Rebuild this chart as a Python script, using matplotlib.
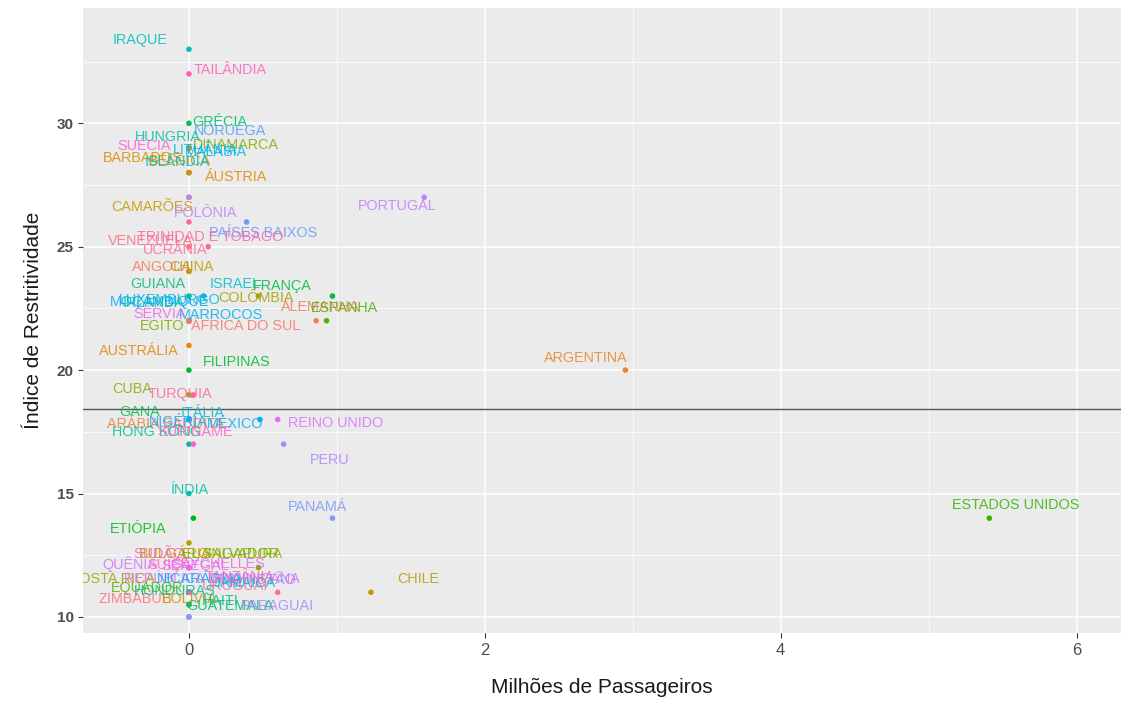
import unicodedata
import numpy as np
import matplotlib
matplotlib.use("Agg")
import matplotlib.pyplot as plt

# País, passageiros (milhões) e índice de restritividade
paises = [
    "IRAQUE", "TAILÂNDIA", "GRÉCIA", "NORUEGA", "HUNGRIA", "DINAMARCA", "SUÉCIA",
    "LITUÂNIA", "MALÁSIA", "BARBADOS", "BÉLGICA", "ISLÂNDIA", "ÁUSTRIA", "CAMARÕES",
    "POLÔNIA", "PORTUGAL", "PAÍSES BAIXOS", "TRINIDAD E TOBAGO", "VENEZUELA", "UCRÂNIA",
    "ANGOLA", "CHINA", "GUIANA", "ISRAEL", "FRANÇA", "COLÔMBIA", "LUXEMBURGO",
    "MOÇAMBIQUE", "IRLANDA", "MARROCOS", "SÉRVIA", "EGITO", "ÁFRICA DO SUL", "ALEMANHA",
    "ESPANHA", "AUSTRÁLIA", "FILIPINAS", "ARGENTINA", "CUBA", "TURQUIA", "GANA", "ITÁLIA",
    "ARÁBIA SAUDITA", "NIGÉRIA", "MÉXICO", "HONG KONG", "SURINAME", "REINO UNIDO", "PERU",
    "ÍNDIA", "ETIÓPIA", "PANAMÁ", "ESTADOS UNIDOS", "CHILE", "CINGAPURA", "SUDÃO",
    "BULGÁRIA", "EL SALVADOR", "QUÊNIA", "SEYCHELLES", "SUÍÇA", "COSTA RICA",
    "REPÚBLICA DOMINICANA", "NICARÁGUA", "PAQUISTÃO", "EQUADOR", "URUGUAI", "ZIMBÁBUE",
    "BOLÍVIA", "GUATEMALA", "PARAGUAI", "HONDURAS", "JAMAICA", "HAITI", "TANZÂNIA",
    "SENEGAL",
]
passageiros = [
    0.00, 0.00, 0.00, 0.00, 0.00, 0.00, 0.00,
    0.00, 0.00, 0.00, 0.00, 0.00, 0.00, 0.00,
    0.00, 1.59, 0.39, 0.13, 0.00, 0.00,
    0.00, 0.00, 0.00, 0.10, 0.97, 0.47, 0.00,
    0.00, 0.00, 0.00, 0.00, 0.00, 0.00, 0.86,
    0.93, 0.00, 0.00, 2.95, 0.00, 0.03, 0.00, 0.00,
    0.00, 0.00, 0.48, 0.00, 0.03, 0.60, 0.64,
    0.00, 0.03, 0.97, 5.41, 1.23, 0.00, 0.00,
    0.00, 0.47, 0.00, 0.00, 0.00, 0.00,
    0.00, 0.00, 0.00, 0.00, 0.60, 0.00,
    0.00, 0.00, 0.00, 0.00, 0.00, 0.00, 0.00,
    0.00,
]
restritividade = [
    33, 32, 30, 29, 29, 29, 29,
    29, 29, 29, 28, 28, 28, 27,
    27, 27, 26, 25, 25, 26,
    24, 24, 23, 23, 23, 23, 22,
    22, 22, 22, 22, 22, 22, 22,
    22, 21, 20, 20, 19, 19, 18, 18,
    18, 18, 18, 17, 17, 18, 17,
    15, 14, 14, 14, 11, 13, 12,
    12, 12, 12, 12, 12, 11,
    11, 11, 11, 11, 11, 10.5,
    10.5, 10, 10, 11, 11, 10.5, 11,
    12,
]
media_restritividade = 18.42

# Deslocamento dos rótulos em relação aos pontos (jitter)
rotulo_dx = [
    -0.33, 0.28, 0.21, 0.28, -0.14, 0.32, -0.30,
    0.11, 0.18, -0.31, -0.06, -0.08, 0.32, -0.25,
    0.11, -0.185, 0.11, 0.01, -0.26, -0.095,
    -0.18, 0.02, -0.21, 0.21, -0.34, -0.02, -0.13,
    -0.20, -0.24, 0.22, -0.20, -0.18, 0.38, 0.025,
    0.12, -0.34, 0.32, -0.27, -0.385, -0.09, -0.33, 0.095,
    -0.155, -0.07, -0.17, -0.22, 0.01, 0.39, 0.31,
    0.01, -0.37, -0.10, 0.18, 0.32, 0.345, -0.20,
    -0.095, -0.19, -0.40, 0.20, -0.13, -0.52,
    0.155, 0.075, 0.445, -0.28, -0.29, -0.365,
    0.007, 0.28, 0.60, -0.095, 0.38, 0.21, 0.345,
    0.04,
]
rotulo_dy = [
    0.37, 0.15, 0.04, 0.68, 0.43, 0.10, 0.07,
    -0.10, -0.18, -0.42, 0.46, 0.42, -0.19, -0.41,
    -0.65, -0.37, -0.46, 0.38, 0.25, -1.15,
    0.16, 0.16, 0.47, 0.50, 0.39, -0.06, 0.86,
    0.74, 0.70, 0.25, 0.29, -0.20, -0.20, 0.54,
    0.50, -0.21, 0.34, 0.50, 0.25, 0.05, 0.32, 0.28,
    -0.17, -0.09, -0.17, 0.50, 0.50, -0.13, -0.63,
    0.15, -0.43, 0.46, 0.54, 0.54, -0.44, 0.56,
    0.56, 0.56, 0.15, 0.15, 0.15, 0.54,
    0.54, 0.54, 0.54, 0.18, 0.26, 0.23,
    0.23, 0.45, 0.45, 0.05, 0.38, 0.15, 0.62,
    0.07,
]


def chave(nome):
    base = unicodedata.normalize("NFD", nome)
    return "".join(c for c in base if not unicodedata.combining(c))


def hcl_para_rgb(h, c=100.0, l=65.0):
    xn, yn, zn = 95.047, 100.0, 108.883
    hr = np.deg2rad(h)
    u, v = c * np.cos(hr), c * np.sin(hr)
    y = yn * ((l + 16) / 116) ** 3 if l > 8 else yn * l / 903.3
    den = xn + 15 * yn + 3 * zn
    un, vn = 4 * xn / den, 9 * yn / den
    up = u / (13 * l) + un
    vp = v / (13 * l) + vn
    x = 9.0 * y * up / (4 * vp)
    z = -x / 3 - 5 * y + 3 * y / vp
    x, y, z = x / 100, y / 100, z / 100
    r = 3.240479 * x - 1.537150 * y - 0.498535 * z
    g = -0.969256 * x + 1.875992 * y + 0.041556 * z
    b = 0.055648 * x - 0.204043 * y + 1.057311 * z

    def gam(t):
        t = 1.055 * t ** (1 / 2.4) - 0.055 if t > 0.00304 else 12.92 * t
        return min(max(t, 0.0), 1.0)

    return (gam(r), gam(g), gam(b))


# Paleta de matizes na ordem alfabética dos países
ordem = sorted(paises, key=chave)
n = len(ordem)
matizes = np.linspace(15, 375, n + 1)[:n]
cor_de = {p: hcl_para_rgb(h % 360) for p, h in zip(ordem, matizes)}
cores = [cor_de[p] for p in paises]

plt.rcParams["font.family"] = ["Liberation Sans", "DejaVu Sans"]

fig = plt.figure(figsize=(11.25, 7.08), dpi=100)
ax = fig.add_axes([83 / 1125, 1 - 633 / 708, (1121 - 83) / 1125, (633 - 8) / 708])
ax.set_facecolor("#EBEBEB")
for s in ax.spines.values():
    s.set_visible(False)

ax.set_xticks([0, 2, 4, 6])
ax.set_yticks([10, 15, 20, 25, 30])
ax.set_xticks([1, 3, 5], minor=True)
ax.set_yticks([12.5, 17.5, 22.5, 27.5, 32.5], minor=True)
ax.grid(which="major", color="white", linewidth=1.1)
ax.grid(which="minor", color="white", linewidth=0.55)
ax.set_axisbelow(True)
ax.tick_params(which="major", length=3.5, width=0.8, color="#333333")
ax.tick_params(which="minor", length=0)
ax.tick_params(axis="x", labelsize=12, labelcolor="#4D4D4D", pad=4)
ax.tick_params(axis="y", labelsize=11, labelcolor="#4D4D4D", pad=3)
for t in ax.get_yticklabels():
    t.set_fontweight("bold")

ax.axhline(media_restritividade, color="#555555", linewidth=1.0, zorder=2)

ax.scatter(passageiros, restritividade, s=16, c=cores, linewidths=0, zorder=3)

for nome, x, y, dx, dy, cor in zip(paises, passageiros, restritividade,
                                   rotulo_dx, rotulo_dy, cores):
    ax.text(x + dx, y + dy, nome, color=cor, fontsize=10.4, ha="center",
            va="center", alpha=0.85, clip_on=True, zorder=4)

# Limites definidos por último para não serem alterados pelos ticks
ax.set_xlim(-0.716, 6.30)
ax.set_ylim(9.35, 34.67)

ax.set_xlabel("Milhões de Passageiros", fontsize=15, color="#1A1A1A", labelpad=14)
ax.set_ylabel("Índice de Restritividade", fontsize=15, color="#1A1A1A", labelpad=10)

fig.savefig("out.png", dpi=100)
